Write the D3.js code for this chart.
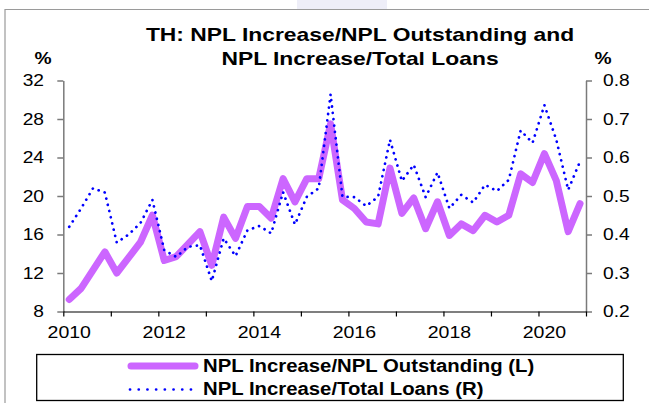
<!DOCTYPE html>
<html>
<head>
<meta charset="utf-8">
<script src="https://cdn.jsdelivr.net/npm/d3@7"></script>
<style>
  body { margin: 0; background: #fff; }
  text { font-family: "Liberation Sans", Arial, sans-serif; }
</style>
</head>
<body>
<div id="vis"></div>
<script>
// quarterly observations, 2010Q1 - 2020Q4
var quarters = [
    '2010Q1','2010Q2','2010Q3','2010Q4','2011Q1','2011Q2','2011Q3','2011Q4',
    '2012Q1','2012Q2','2012Q3','2012Q4','2013Q1','2013Q2','2013Q3','2013Q4',
    '2014Q1','2014Q2','2014Q3','2014Q4','2015Q1','2015Q2','2015Q3','2015Q4',
    '2016Q1','2016Q2','2016Q3','2016Q4','2017Q1','2017Q2','2017Q3','2017Q4',
    '2018Q1','2018Q2','2018Q3','2018Q4','2019Q1','2019Q2','2019Q3','2019Q4',
    '2020Q1','2020Q2','2020Q3','2020Q4'
];
// NPL Increase/NPL Outstanding (%, left axis)
var nplOutstanding = [
    9.25, 10.4, 12.3, 14.2, 12.0, 13.6, 15.2, 18.0,
    13.3, 13.7, 15.0, 16.3, 12.8, 17.8, 15.6, 18.9,
    18.9, 17.7, 21.8, 19.4, 21.8, 21.8, 27.5, 19.6,
    18.7, 17.3, 17.1, 22.9, 18.2, 19.8, 16.6, 19.4,
    15.9, 17.1, 16.4, 18.0, 17.3, 18.0, 22.3, 21.4,
    24.4, 21.6, 16.3, 19.2
];
// NPL Increase/Total Loans (%, right axis)
var totalLoans = [
    0.42, 0.468, 0.52, 0.509, 0.379, 0.40, 0.43, 0.49,
    0.359, 0.342, 0.368, 0.372, 0.279, 0.39, 0.344, 0.411,
    0.422, 0.403, 0.51, 0.426, 0.498, 0.52, 0.764, 0.498,
    0.497, 0.474, 0.498, 0.646, 0.539, 0.581, 0.497, 0.561,
    0.468, 0.503, 0.483, 0.529, 0.513, 0.542, 0.67, 0.638,
    0.736, 0.646, 0.516, 0.59
];
var leftTicks = [8, 12, 16, 20, 24, 28, 32];
var rightTicks = [0.2, 0.3, 0.4, 0.5, 0.6, 0.7, 0.8];
var yearTicks = [2010, 2011, 2012, 2013, 2014, 2015, 2016, 2017, 2018, 2019, 2020, 2021];
var yearLabels = [2010, 2012, 2014, 2016, 2018, 2020];
var titleLines = ['TH: NPL Increase/NPL Outstanding and', 'NPL Increase/Total Loans'];
var legendNames = ['NPL Increase/NPL Outstanding (L)', 'NPL Increase/Total Loans (R)'];

var purple = '#cc66ff';
var blue = '#0000ff';

var svg = d3.select('#vis')
    .append('svg')
    .attr('width', 649)
    .attr('height', 403);

// quarter label -> decimal year at mid quarter
var qTime = function(q) {
    return +q.slice(0, 4) + (+q.slice(5) - 1) / 4 + 0.125;
};

var xScale = d3.scaleLinear().domain([2010, 2021]).range([63.3, 586]);
var yLeft = d3.scaleLinear().domain([8, 32]).range([311.5, 80.5]);
var yRight = d3.scaleLinear().domain([0.2, 0.8]).range([311.5, 80.5]);

// horizontally stretched text (the source screenshot is wide)
var addText = function(str, x, y, size, sx, anchor, weight) {
    return svg.append('text')
        .attr('transform', 'translate(' + x + ',' + y + ') scale(' + sx + ',1)')
        .attr('text-anchor', anchor)
        .style('font-size', size + 'px')
        .style('font-weight', weight || 'normal')
        .attr('fill', '#000')
        .text(str);
};

// faint watermark + frame
svg.append('rect').attr('x', 297).attr('y', 0).attr('width', 90).attr('height', 9)
    .attr('fill', '#eeeef8');
svg.append('path')
    .attr('d', 'M5,403 L5,9.5 L649,9.5')
    .attr('fill', 'none')
    .attr('stroke', '#9a9a9a')
    .attr('stroke-width', 1.2);

// title
titleLines.forEach(function(t, i) {
    addText(t, 360, 41 + i * 24, 18, 1.27, 'middle', 'bold');
});

addText('%', 43, 64, 16, 1.2, 'middle', 'bold');
addText('%', 603, 64, 16, 1.2, 'middle', 'bold');

// axes
svg.append('g')
    .attr('transform', 'translate(' + xScale(2010) + ',0)')
    .call(d3.axisLeft(yLeft).tickValues(leftTicks).tickSize(6).tickFormat('').tickSizeOuter(0))
    .call(function(g) { g.selectAll('line, path').attr('stroke', '#7a7a7a').attr('stroke-width', 1.5); });

svg.append('g')
    .attr('transform', 'translate(' + xScale(2021) + ',0)')
    .call(d3.axisRight(yRight).tickValues(rightTicks).tickSize(6).tickFormat('').tickSizeOuter(0))
    .call(function(g) { g.selectAll('line, path').attr('stroke', '#7a7a7a').attr('stroke-width', 1.5); });

svg.append('g')
    .attr('transform', 'translate(0,' + yLeft(8) + ')')
    .call(d3.axisBottom(xScale).tickValues(yearTicks).tickSize(5).tickFormat('').tickSizeOuter(0))
    .call(function(g) { g.selectAll('line, path').attr('stroke', '#000').attr('stroke-width', 1.2); });

leftTicks.forEach(function(v) {
    addText(v, 44, yLeft(v) + 5.8, 16, 1.2, 'end');
});
rightTicks.forEach(function(v) {
    addText(d3.format('.1f')(v), 603, yRight(v) + 5.8, 16, 1.2, 'start');
});
yearLabels.forEach(function(y) {
    addText(y, xScale(y + 0.125), 338, 16, 1.22, 'middle');
});

// series
var lineL = d3.line()
    .x(function(d, i) { return xScale(qTime(quarters[i])); })
    .y(function(d) { return yLeft(d); });
var lineR = d3.line()
    .x(function(d, i) { return xScale(qTime(quarters[i])); })
    .y(function(d) { return yRight(d); });

svg.append('path')
    .datum(nplOutstanding)
    .attr('d', lineL)
    .attr('fill', 'none')
    .attr('stroke', purple)
    .attr('stroke-width', 7)
    .attr('stroke-linejoin', 'round')
    .attr('stroke-linecap', 'round');

svg.append('path')
    .datum(totalLoans)
    .attr('d', lineR)
    .attr('fill', 'none')
    .attr('stroke', blue)
    .attr('stroke-width', 2.7)
    .attr('stroke-dasharray', '0.1 6.3')
    .attr('stroke-linecap', 'round');

// legend
svg.append('rect')
    .attr('x', 36.7).attr('y', 354.5)
    .attr('width', 586.6).attr('height', 46)
    .attr('fill', '#fff')
    .attr('stroke', '#000')
    .attr('stroke-width', 1.3);

svg.append('line')
    .attr('x1', 131).attr('x2', 195).attr('y1', 366).attr('y2', 366)
    .attr('stroke', purple).attr('stroke-width', 7).attr('stroke-linecap', 'round');
svg.append('line')
    .attr('x1', 130).attr('x2', 192).attr('y1', 389.5).attr('y2', 389.5)
    .attr('stroke', blue).attr('stroke-width', 2.7)
    .attr('stroke-dasharray', '0.1 8.6').attr('stroke-linecap', 'round');

legendNames.forEach(function(n, i) {
    addText(n, 203, 372 + i * 23.3, 18, 1.13, 'start', 'bold');
});
</script>
</body>
</html>
